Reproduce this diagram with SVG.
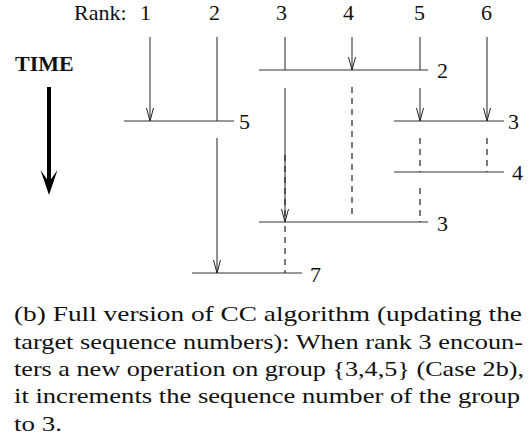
<svg xmlns="http://www.w3.org/2000/svg" width="529" height="442" viewBox="0 0 529 442">
<style>
  .lbl { font-family: "Liberation Serif", "Times New Roman", serif; font-size: 22px; fill: #111; }
  .bold { font-weight: bold; }
  .cap { font-family: "Liberation Serif", "Times New Roman", serif; font-size: 22px; fill: #111; }
  .op { stroke: #333; stroke-width: 1.2; fill: none; }
  .ln { stroke: #222; stroke-width: 1; fill: none; }
  .dash { stroke: #222; stroke-width: 1.2; fill: none; stroke-dasharray: 6 5; }
  .arr { marker-end: url(#v); }
</style>
<defs>
  <marker id="v" markerUnits="userSpaceOnUse" markerWidth="16" markerHeight="10" viewBox="-14 -5 16 10" refX="0" refY="0" orient="auto">
    <path d="M-13,-3.5 L0,0 L-13,3.5" fill="none" stroke="#222" stroke-width="1"/>
  </marker>
</defs>
<rect width="529" height="442" fill="#fff"/>

<g id="header">
  <text class="lbl" x="74" y="20">Rank:</text>
  <text class="lbl" x="140" y="20">1</text>
  <text class="lbl" x="209" y="20">2</text>
  <text class="lbl" x="276" y="20">3</text>
  <text class="lbl" x="343" y="20">4</text>
  <text class="lbl" x="414" y="20">5</text>
  <text class="lbl" x="481" y="20">6</text>
</g>

<g id="time">
  <text class="lbl bold" x="15" y="71">TIME</text>
  <line x1="49" y1="87" x2="49" y2="184" stroke="#000" stroke-width="4"/>
  <polygon points="40.5,170 49,182 57.5,170 49,195" fill="#000"/>
</g>

<g id="op-5">
  <line class="op" x1="124" y1="121" x2="234" y2="121"/>
  <text class="lbl" x="239" y="129">5</text>
</g>
<g id="op-2">
  <line class="op" x1="259" y1="70" x2="428" y2="70"/>
  <text class="lbl" x="437" y="78">2</text>
</g>
<g id="op-3a">
  <line class="op" x1="394" y1="121" x2="504" y2="121"/>
  <text class="lbl" x="508" y="129">3</text>
</g>
<g id="op-4">
  <line class="op" x1="394" y1="172" x2="504" y2="172"/>
  <text class="lbl" x="512" y="180">4</text>
</g>
<g id="op-3b">
  <line class="op" x1="259" y1="222" x2="428" y2="222"/>
  <text class="lbl" x="437" y="231">3</text>
</g>
<g id="op-7">
  <line class="op" x1="192" y1="273" x2="302" y2="273"/>
  <text class="lbl" x="310" y="282">7</text>
</g>

<g id="connectors">
  <!-- rank 1 -->
  <line class="ln arr" x1="150" y1="37" x2="150" y2="121"/>
  <!-- rank 2 -->
  <line class="ln" x1="217" y1="37" x2="217" y2="121"/>
  <line class="ln arr" x1="217" y1="138" x2="217" y2="273"/>
  <!-- rank 3 -->
  <line class="ln" x1="285" y1="37" x2="285" y2="70"/>
  <line class="ln arr" x1="285" y1="88" x2="285" y2="222"/>
  <line class="dash" x1="285" y1="155" x2="285" y2="218"/>
  <line class="dash" x1="285" y1="226" x2="285" y2="273"/>
  <!-- rank 4 -->
  <line class="ln arr" x1="352" y1="37" x2="352" y2="70"/>
  <line class="dash" x1="352" y1="87" x2="352" y2="216"/>
  <!-- rank 5 -->
  <line class="ln" x1="420" y1="37" x2="420" y2="70"/>
  <line class="ln arr" x1="420" y1="88" x2="420" y2="121"/>
  <line class="dash" x1="420" y1="138" x2="420" y2="172"/>
  <line class="dash" x1="420" y1="188" x2="420" y2="222"/>
  <!-- rank 6 -->
  <line class="ln arr" x1="487" y1="37" x2="487" y2="121"/>
  <line class="dash" x1="487" y1="138" x2="487" y2="172"/>
</g>

<g id="caption">
  <text class="cap" x="14" y="321" textLength="508" lengthAdjust="spacingAndGlyphs">(b) Full version of CC algorithm (updating the</text>
  <text class="cap" x="14" y="348.5" textLength="509" lengthAdjust="spacingAndGlyphs">target sequence numbers): When rank 3 encoun-</text>
  <text class="cap" x="14" y="376" textLength="510" lengthAdjust="spacingAndGlyphs">ters a new operation on group {3,4,5} (Case 2b),</text>
  <text class="cap" x="14" y="403" textLength="506" lengthAdjust="spacingAndGlyphs">it increments the sequence number of the group</text>
  <text class="cap" x="14" y="430.5" textLength="48" lengthAdjust="spacingAndGlyphs">to 3.</text>
</g>
</svg>
